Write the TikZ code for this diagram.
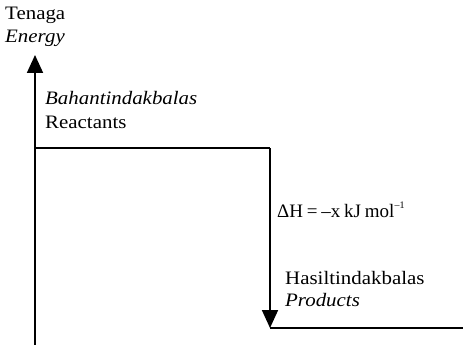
\documentclass[tikz,border=0pt]{standalone}
\usepackage{graphicx}
\usepackage{fontspec}
\setmainfont{Liberation Serif}
\usetikzlibrary{arrows.meta}
\newcommand{\hstretch}[1]{\scalebox{1.1}[1]{#1}}
\newcommand{\gapsp}{\hspace{0.2em}}
\begin{document}
\begin{tikzpicture}[x=1pt,y=-1pt,
  lbl/.style={inner sep=0pt,anchor=base west,font=\fontsize{19}{22}\selectfont},
  conn/.style={line width=1.8pt,-{Triangle[length=18pt,width=16pt]}},
  lvl/.style={line width=1.8pt}]
\useasboundingbox (0,0) rectangle (463,345);
\coordinate (o) at (35,345);
\coordinate (top) at (35,55);
\coordinate (r0) at (35,148);
\coordinate (r1) at (270,148);
\coordinate (p0) at (270,328);
\coordinate (p1) at (463,328);
\draw[conn] (o) -- (top);
\draw[lvl] (r0) -- (r1);
\draw[conn] (r1) -- (p0);
\draw[lvl] (p0) -- (p1);
\node[lbl] (t1) at (5,20) {\hstretch{Tenaga}};
\node[lbl] (t2) at (5,43) {\hstretch{\itshape Energy}};
\node[lbl] (b1) at (45,104) {\hstretch{\itshape Bahantindakbalas}};
\node[lbl] (b2) at (45,128) {\hstretch{Reactants}};
\node[lbl] (dh) at (277,217) {ΔH\gapsp=\gapsp–x\gapsp kJ\gapsp mol\raisebox{0.45em}{\fontsize{10}{12}\selectfont –1}};
\node[lbl] (h1) at (285,284) {\hstretch{Hasiltindakbalas}};
\node[lbl] (h2) at (285,306) {\hstretch{\itshape Products}};
\end{tikzpicture}
\end{document}
